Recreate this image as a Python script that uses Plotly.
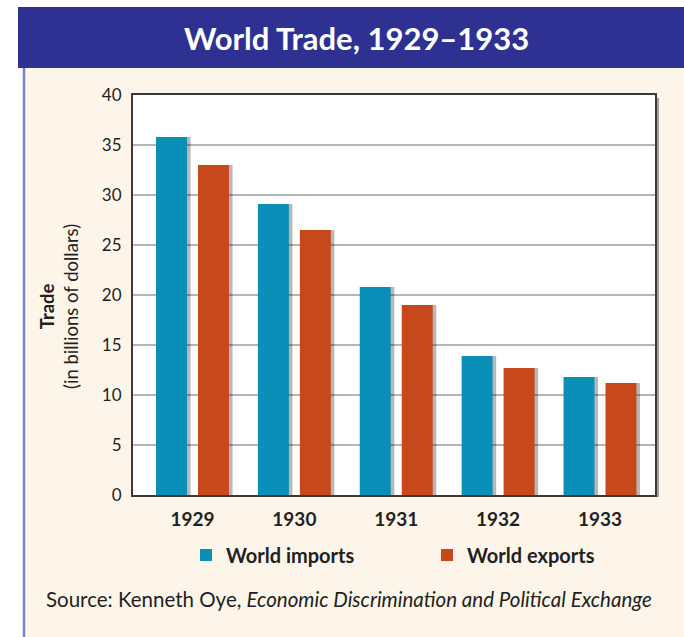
import plotly.graph_objects as go

years = ["1929", "1930", "1931", "1932", "1933"]
imports_vals = [35.8, 29.1, 20.8, 13.9, 11.8]
exports_vals = [33.0, 26.5, 19.0, 12.7, 11.2]
y_ticks = [0, 5, 10, 15, 20, 25, 30, 35, 40]

IMP = "#0A8FB8"
EXP = "#C7481A"
TXT = "#231F20"
FONT = "Lato"

# plot-area pixel geometry (for converting paper coords)
L, R, T, B = 133, 655, 95, 495
W, H = R - L, B - T
def px(x):
    return (x - L) / W
def py(y):
    return (B - y) / H

fig = go.Figure()

# soft shadows
for vals, off in [(imports_vals, -0.358), (exports_vals, 0.054)]:
    fig.add_trace(go.Bar(x=years, y=vals, offset=off + 0.035, width=0.304,
                         marker=dict(color="rgba(0,0,0,0.28)", line=dict(width=0)),
                         showlegend=False, hoverinfo="skip"))

fig.add_trace(go.Bar(x=years, y=imports_vals, name="<b>World imports</b>",
                     offset=-0.358, width=0.304,
                     marker=dict(color=IMP, line=dict(width=0))))
fig.add_trace(go.Bar(x=years, y=exports_vals, name="<b>World exports</b>",
                     offset=0.054, width=0.304,
                     marker=dict(color=EXP, line=dict(width=0))))

shapes = [
    # cream panel
    dict(type="rect", xref="paper", yref="paper", x0=px(24), x1=px(700), y0=py(700), y1=py(68),
         fillcolor="#FDF5EA", line=dict(width=0), layer="below"),
    # white plot area
    dict(type="rect", xref="paper", yref="paper", x0=0, x1=1, y0=0, y1=1,
         fillcolor="white", line=dict(width=0), layer="below"),
    # title bar
    dict(type="rect", xref="paper", yref="paper", x0=px(18), x1=px(700), y0=py(68), y1=py(7),
         fillcolor="#2E3192", line=dict(width=0), layer="below"),
    # left border
    dict(type="line", xref="paper", yref="paper", x0=px(24), x1=px(24), y0=py(68), y1=py(700),
         line=dict(color="#7E80C6", width=2.5), layer="below"),
    # frame shadow
    dict(type="rect", xref="paper", yref="paper", x0=px(656), x1=px(659), y0=py(497), y1=py(98),
         fillcolor="rgba(0,0,0,0.35)", line=dict(width=0), layer="below"),
]

annotations = [
    dict(text="<b>World Trade, 1929\u20131933</b>", xref="paper", yref="paper",
         x=px(356), y=py(38), xanchor="center", yanchor="middle", showarrow=False,
         font=dict(family=FONT, size=31, color="white")),
    dict(text="<b>Trade</b><br>(in billions of dollars)", xref="paper", yref="paper",
         x=px(59), y=py(307), xanchor="center", yanchor="middle", showarrow=False,
         textangle=-90, font=dict(family=FONT, size=18.5, color=TXT)),
    dict(text="Source: Kenneth Oye, <i>Economic Discrimination and Political Exchange</i>",
         xref="paper", yref="paper", x=px(44), y=py(599), xanchor="left", yanchor="middle",
         showarrow=False, font=dict(family=FONT, size=20.5, color=TXT)),
]

fig.update_layout(
    width=684, height=637,
    margin=dict(l=L, r=684 - R, t=T, b=637 - B),
    paper_bgcolor="white", plot_bgcolor="white",
    barmode="overlay",
    showlegend=True,
    legend=dict(orientation="h", x=px(186), y=py(555), xanchor="left", yanchor="middle",
                font=dict(family=FONT, size=20, color=TXT), bgcolor="rgba(0,0,0,0)",
                entrywidth=196, entrywidthmode="pixels", traceorder="normal"),
    shapes=shapes, annotations=annotations,
    font=dict(family=FONT, color=TXT),
)

fig.update_xaxes(range=[-0.584, 4.54], showgrid=False, ticks="outside", ticklen=6,
                 tickcolor="rgba(0,0,0,0)", showline=True, linecolor="#3A3A3A", linewidth=2,
                 mirror=True, tickfont=dict(family=FONT, size=19, color=TXT),
                 tickvals=years, ticktext=["<b>%s</b>" % y for y in years])
fig.update_yaxes(range=[0, 40], tickvals=y_ticks, showgrid=True, gridcolor="#B5B5B5",
                 gridwidth=1.5, ticks="outside", ticklen=6, tickcolor="rgba(0,0,0,0)",
                 showline=True, linecolor="#3A3A3A", linewidth=2, mirror=True,
                 zeroline=False, tickfont=dict(family=FONT, size=17, color=TXT))

fig.write_html("out.html", config={"displayModeBar": False},
               post_script="document.body.style.margin='0';")
